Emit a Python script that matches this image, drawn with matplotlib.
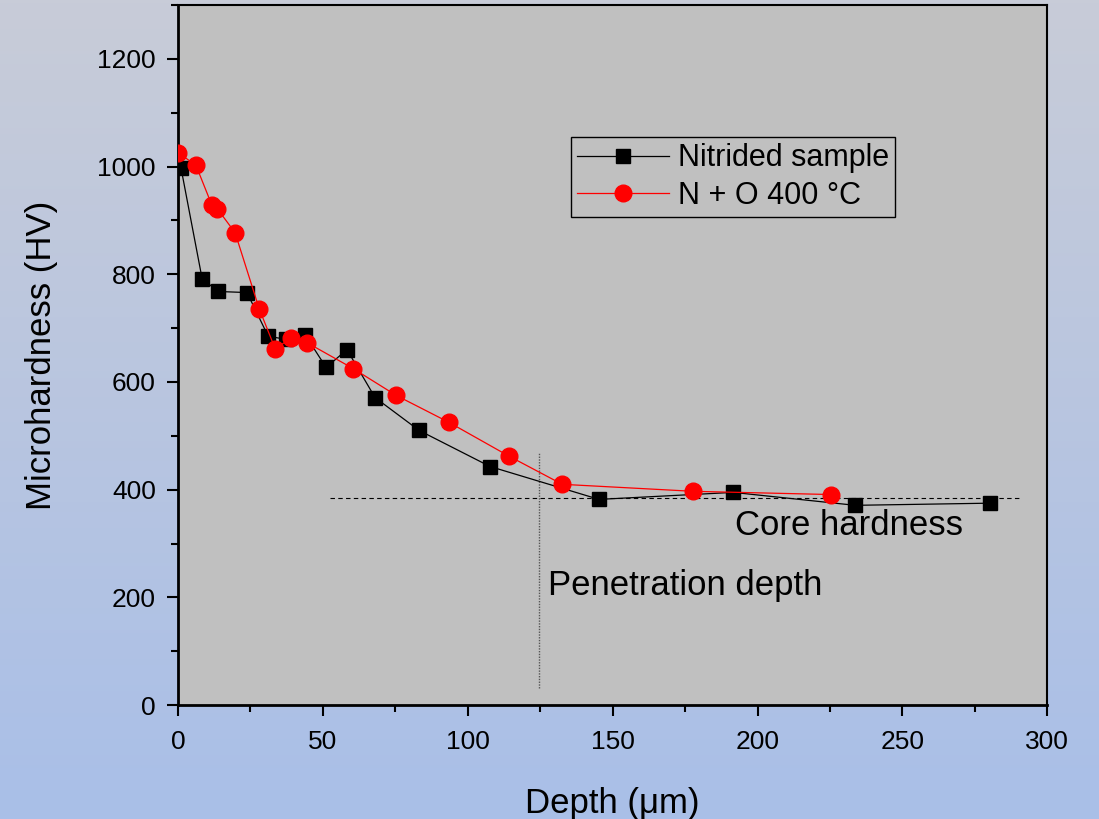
import numpy as np
import matplotlib.pyplot as plt
from matplotlib.ticker import MultipleLocator

plt.rcParams['font.family'] = ['Liberation Sans', 'DejaVu Sans']

# Nitrided sample (black squares)
depth_nitrided = [1, 8.3, 13.8, 23.8, 31.1, 37.3, 43.8, 51.1, 58.3, 68.0, 83.2, 107.7, 145.3, 191.6, 233.7, 280.3]
hv_nitrided = [998, 792, 768, 766, 685, 679, 688, 627, 660, 571, 510, 443, 382, 395, 371, 375]

# N + O 400 °C (red circles)
depth_no = [0, 6.2, 11.7, 13.5, 19.7, 28.0, 33.5, 39.0, 44.5, 60.4, 75.3, 93.5, 114.3, 132.6, 177.8, 225.4]
hv_no = [1026, 1002, 928, 922, 877, 736, 662, 681, 673, 625, 575, 525, 462, 410, 397, 391]

core_hardness = 384
core_range = [52.5, 291]
penetration_depth = 124.6
penetration_range = [32, 469]

fig = plt.figure(figsize=(10.99, 8.19), dpi=100)

# gradient background
bg = fig.add_axes([0, 0, 1, 1], zorder=-10)
top = np.array([200, 204, 216]) / 255
bottom = np.array([169, 191, 232]) / 255
t = np.linspace(0, 1, 256)[:, None]
grad = top * (1 - t) + bottom * t
bg.imshow(grad[:, None, :], aspect='auto', extent=[0, 1, 0, 1])
bg.axis('off')

ax = fig.add_axes([0.162, 0.139, 0.791, 0.855])
ax.set_facecolor('#c0c0c0')

ax.plot(depth_nitrided, hv_nitrided, color='black', lw=0.9, marker='s', markersize=10,
        label='Nitrided sample', zorder=3)
ax.plot(depth_no, hv_no, color='red', lw=0.9, marker='o', markersize=12,
        label='N + O 400 °C', zorder=4)

ax.plot(core_range, [core_hardness, core_hardness], color='black', lw=0.8, ls=(0, (4, 3)), zorder=2)
ax.plot([penetration_depth, penetration_depth], penetration_range, color='#555555', lw=1.0,
        ls=(0, (1, 1)), zorder=2)

ax.text(231.6, 334, 'Core hardness', fontsize=25, ha='center', va='center')
ax.text(127.7, 222, 'Penetration depth', fontsize=25, ha='left', va='center')

ax.set_xlim(0, 300)
ax.set_ylim(0, 1300)
ax.xaxis.set_major_locator(MultipleLocator(50))
ax.xaxis.set_minor_locator(MultipleLocator(25))
ax.yaxis.set_minor_locator(MultipleLocator(100))
ax.set_yticks([0, 200, 400, 600, 800, 1000, 1200])
ax.tick_params(which='major', direction='out', length=8, width=1.5, labelsize=19)
ax.tick_params(axis='x', pad=10)
ax.tick_params(axis='y', pad=8)
ax.tick_params(which='minor', direction='out', length=5, width=1.5)
for s in ['left', 'bottom']:
    ax.spines[s].set_linewidth(2)
for s in ['top', 'right']:
    ax.spines[s].set_linewidth(1.5)

ax.set_xlabel('Depth (\u03bcm)', fontsize=25, labelpad=24)
ax.set_ylabel('Microhardness (HV)', fontsize=25, labelpad=28)

leg = ax.legend(loc='upper left', bbox_to_anchor=(0.452, 0.811), fontsize=22, frameon=True,
                fancybox=False, edgecolor='black', facecolor='#c0c0c0', framealpha=1,
                handlelength=3.0, borderpad=0.2, labelspacing=0.25, handletextpad=0.3,
                borderaxespad=0)
leg.get_frame().set_linewidth(1.0)

fig.savefig('out.png', dpi=100)
